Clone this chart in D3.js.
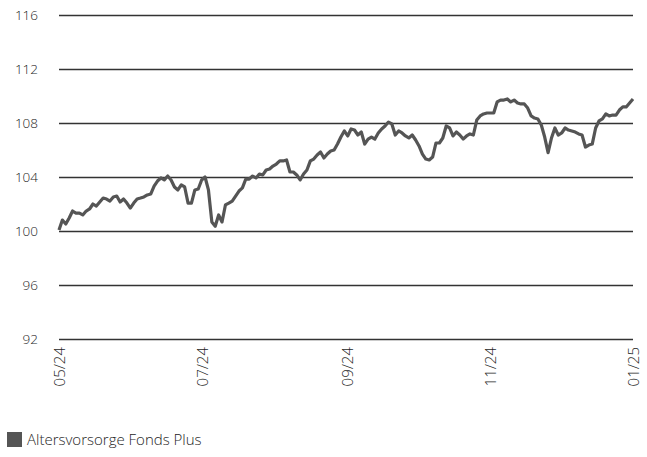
<!DOCTYPE html>
<html>
<head>
<meta charset="utf-8">
<script src="https://cdn.jsdelivr.net/npm/d3@7"></script>
<style>
  body { margin: 0; background: #fff; }
  text { font-family: "Open Sans", "Noto Sans", sans-serif; font-weight: 300; fill: #1e1e1e; }
</style>
</head>
<body>
<script>
// series name
var seriesName = "Altersvorsorge Fonds Plus";

// index values (roughly one per trading day)
var values = [
  100.07, 100.81, 100.52, 100.96, 101.48, 101.33, 101.33, 101.19, 101.48, 101.63,
  102.00, 101.85, 102.15, 102.44, 102.37, 102.22, 102.52, 102.59, 102.15, 102.37,
  102.07, 101.70, 102.07, 102.37, 102.44, 102.52, 102.67, 102.74, 103.33, 103.70,
  103.93, 103.78, 104.07, 103.78, 103.26, 103.04, 103.41, 103.26, 102.07, 102.07,
  103.04, 103.11, 103.78, 104.00, 103.04, 100.67, 100.35, 101.19, 100.67, 101.93,
  102.07, 102.22, 102.59, 102.96, 103.19, 103.85, 103.85, 104.07, 103.93, 104.22,
  104.15, 104.52, 104.59, 104.81, 104.96, 105.19, 105.19, 105.26, 104.37, 104.37,
  104.15, 103.78, 104.22, 104.52, 105.19, 105.33, 105.63, 105.85, 105.41, 105.70,
  105.93, 106.00, 106.44, 106.96, 107.41, 107.04, 107.56, 107.48, 107.11, 107.33,
  106.44, 106.81, 106.96, 106.81, 107.26, 107.56, 107.78, 108.07, 107.93, 107.11,
  107.41, 107.26, 107.04, 106.89, 107.11, 106.74, 106.30, 105.70, 105.33, 105.26,
  105.48, 106.52, 106.52, 106.89, 107.78, 107.63, 107.04, 107.33, 107.11, 106.81,
  107.04, 107.19, 107.11, 108.22, 108.52, 108.67, 108.74, 108.74, 108.74, 109.56,
  109.70, 109.70, 109.78, 109.56, 109.70, 109.48, 109.41, 109.41, 109.11, 108.52,
  108.37, 108.30, 107.85, 106.96, 105.80, 106.89, 107.63, 107.11, 107.26, 107.63,
  107.48, 107.41, 107.33, 107.19, 107.11, 106.22, 106.37, 106.44, 107.63, 108.15,
  108.30, 108.67, 108.52, 108.59, 108.59, 108.96, 109.19, 109.19, 109.48, 109.78
];

// y ticks and x ticks
var yTicks = [92, 96, 100, 104, 108, 112, 116];
var xTickDates = ["2024-05-01", "2024-07-01", "2024-09-01", "2024-11-01", "2025-01-01"];
var startDate = "2024-05-01", endDate = "2025-01-01";

var parseDate = d3.timeParse("%Y-%m-%d");
var formatTick = d3.timeFormat("%m/%y");

// set the dimensions and margins of the graph
var margin = {top: 15, right: 14, bottom: 118, left: 59},
    width = 647 - margin.left - margin.right,
    height = 457 - margin.top - margin.bottom;

var x = d3.scaleTime()
    .domain([parseDate(startDate), parseDate(endDate)])
    .range([0, width]);
var y = d3.scaleLinear().domain([92, 116]).range([height, 0]);

// spread the points evenly over the period
var t0 = parseDate(startDate).getTime(), t1 = parseDate(endDate).getTime();
var data = values.map(function(v, i) {
  return {date: new Date(t0 + (t1 - t0) * i / (values.length - 1)), value: v};
});

var svg = d3.select("body").append("svg")
    .attr("width", 647)
    .attr("height", 457)
  .append("g")
    .attr("transform", "translate(" + margin.left + "," + margin.top + ")");

// y axis with gridlines
var yAxis = svg.append("g")
    .call(d3.axisLeft(y).tickValues(yTicks).tickSize(-width).tickPadding(21));
yAxis.select(".domain").remove();
yAxis.selectAll(".tick line").attr("stroke", "#333").attr("stroke-width", 1.3);
yAxis.selectAll(".tick text").style("font-size", "13.5px").attr("fill", "#1e1e1e");

// x axis labels, rotated
var xAxis = svg.append("g")
    .attr("transform", "translate(0," + height + ")")
    .call(d3.axisBottom(x).tickValues(xTickDates.map(parseDate)).tickFormat(formatTick).tickSize(0));
xAxis.select(".domain").remove();
xAxis.selectAll(".tick text")
    .style("font-size", "15px")
    .attr("fill", "#1e1e1e")
    .style("text-anchor", "end")
    .attr("dy", "0.35em")
    .attr("transform", "translate(0,8) rotate(-90)")
    .attr("x", 0)
    .attr("y", 0);

// the line
var valueline = d3.line()
    .x(function(d) { return x(d.date); })
    .y(function(d) { return y(d.value); });

svg.append("path")
    .datum(data)
    .attr("fill", "none")
    .attr("stroke", "#555")
    .attr("stroke-width", 3.2)
    .attr("stroke-linejoin", "round")
    .attr("d", valueline);

// legend
var legend = d3.select("svg").append("g")
    .attr("transform", "translate(7,432)");
legend.append("rect")
    .attr("width", 15).attr("height", 15)
    .attr("fill", "#555");
legend.append("text")
    .attr("x", 20).attr("y", 13)
    .style("font-size", "15px")
    .text(seriesName);
</script>
</body>
</html>
